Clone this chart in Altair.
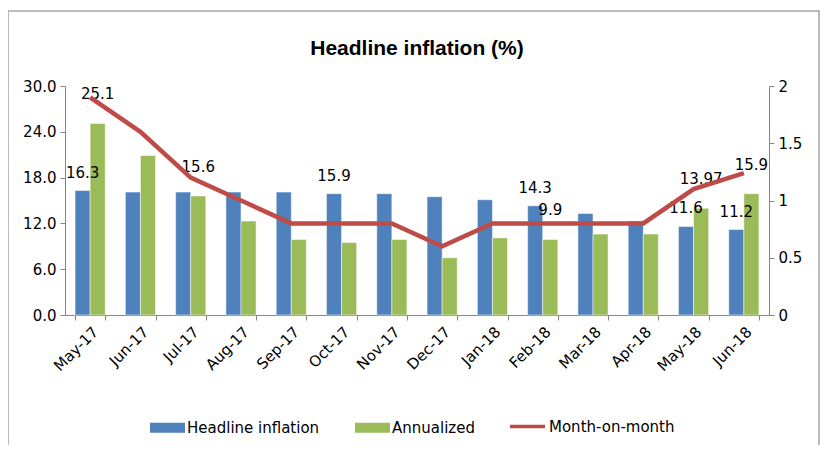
import altair as alt
import pandas as pd

months = ["May-17", "Jun-17", "Jul-17", "Aug-17", "Sep-17", "Oct-17", "Nov-17",
          "Dec-17", "Jan-18", "Feb-18", "Mar-18", "Apr-18", "May-18", "Jun-18"]
headline = [16.3, 16.1, 16.1, 16.1, 16.1, 15.9, 15.9, 15.5, 15.1, 14.3, 13.3, 12.3, 11.6, 11.2]
annualized = [25.1, 20.9, 15.6, 12.3, 9.9, 9.5, 9.9, 7.5, 10.1, 9.9, 10.6, 10.6, 13.97, 15.9]
month_on_month = [1.9, 1.6, 1.2, 1.0, 0.8, 0.8, 0.8, 0.6, 0.8, 0.8, 0.8, 0.8, 1.1, 1.24]
series_names = ["Headline inflation", "Annualized", "Month-on-month"]

label_months = ["May-17", "May-17", "Jul-17", "Oct-17", "Feb-18", "Feb-18",
                "May-18", "May-18", "Jun-18", "Jun-18"]
label_series = ["Headline inflation", "Annualized", "Annualized", "Headline inflation",
                "Headline inflation", "Annualized", "Headline inflation", "Annualized",
                "Headline inflation", "Annualized"]
label_texts = ["16.3", "25.1", "15.6", "15.9", "14.3", "9.9", "11.6", "13.97", "11.2", "15.9"]

BLUE, GREEN, RED = "#4F81BD", "#9BBB59", "#BE4B48"
FONT = "DejaVu Sans"
TITLE_FONT = "Liberation Sans"
AXIS_GRAY = "#868686"

bar_df = pd.DataFrame({
    "month": months * 2,
    "series": [series_names[0]] * len(months) + [series_names[1]] * len(months),
    "value": headline + annualized,
})
line_df = pd.DataFrame({"month": months, "series": series_names[2], "value": month_on_month})
lab_df = pd.DataFrame({"month": label_months, "series": label_series, "text": label_texts})
lab_df = lab_df.merge(bar_df, on=["month", "series"], how="left")

x_enc = alt.X(
    "month:N", sort=months,
    scale=alt.Scale(domain=months, paddingInner=0.4, paddingOuter=0.2),
    axis=alt.Axis(title=None, labelAngle=-45, tickBand="extent", labelFontSize=15,
                  labelColor="#000000", domainColor=AXIS_GRAY, tickColor=AXIS_GRAY,
                  tickSize=5, labelPadding=4, grid=False),
)
xoff = alt.XOffset("series:N", sort=series_names[:2],
                   scale=alt.Scale(domain=series_names[:2], paddingInner=0, paddingOuter=0))

bar_legend = alt.Legend(
    title=None, orient="none", direction="horizontal", legendX=85, legendY=324,
    symbolSize=1225, symbolType="M-1,-0.286H1V0.286H-1Z", symbolStrokeWidth=0,
    symbolOpacity=1, labelFontSize=15, labelColor="#000000", labelFont=FONT,
    columnPadding=35, labelOffset=2,
)
line_legend = alt.Legend(
    title=None, orient="none", direction="horizontal", legendX=443, legendY=321,
    symbolSize=1225, symbolType="M-1,0H1", symbolStrokeWidth=3.5,
    labelFontSize=15, labelColor="#000000", labelFont=FONT, labelOffset=2,
)

y_left = alt.Y("value:Q", scale=alt.Scale(domain=[0, 30], nice=False),
               axis=alt.Axis(title=None, values=[0, 6, 12, 18, 24, 30], format=".1f",
                             labelFontSize=15, labelColor="#000000", domainColor=AXIS_GRAY,
                             tickColor=AXIS_GRAY, tickSize=5, grid=False, labelPadding=4))

bars = alt.Chart(bar_df).mark_bar(stroke="white", strokeWidth=0.5).encode(
    x=x_enc, xOffset=xoff, y=y_left,
    color=alt.Color("series:N", scale=alt.Scale(domain=series_names[:2], range=[BLUE, GREEN]),
                    legend=bar_legend),
)
texts_blue = alt.Chart(lab_df).transform_filter(
    alt.datum.series == series_names[0]
).mark_text(baseline="bottom", dy=-10, fontSize=15, color="#000000").encode(
    x=x_enc, xOffset=xoff, y=alt.Y("value:Q"), text="text:N",
)
texts_green = alt.Chart(lab_df).transform_filter(
    alt.datum.series == series_names[1]
).mark_text(baseline="bottom", dy=-21, fontSize=15, color="#000000").encode(
    x=x_enc, xOffset=xoff, y=alt.Y("value:Q"), text="text:N",
)
line = alt.Chart(line_df).mark_line(strokeWidth=4.5).encode(
    x=x_enc,
    y=alt.Y("value:Q", scale=alt.Scale(domain=[0, 2], nice=False),
            axis=alt.Axis(title=None, values=[0, 0.5, 1, 1.5, 2], format="~g", orient="right",
                          labelFontSize=15, labelColor="#000000", domainColor=AXIS_GRAY,
                          tickColor=AXIS_GRAY, tickSize=5, grid=False, labelPadding=4)),
    stroke=alt.Stroke("series:N", scale=alt.Scale(domain=[series_names[2]], range=[RED]),
                      legend=line_legend),
)

frame = alt.Chart(pd.DataFrame({"f": [0]})).mark_rect(
    fill=None, stroke="#A6A6A6", strokeWidth=1.5
).encode(x=alt.value(-57), x2=alt.value(754), y=alt.value(-75), y2=alt.value(380))

chart = alt.layer(frame, alt.layer(bars, texts_blue, texts_green), line).resolve_scale(
    y="independent"
).properties(
    width=704, height=229,
    title=alt.TitleParams("Headline inflation (%)", fontSize=21, fontWeight="bold",
                          font=TITLE_FONT, color="#000000", anchor="middle", offset=-49),
    autosize=alt.AutoSizeParams(type="none"),
    padding={"left": 57, "top": 78, "right": 52, "bottom": 130},
).configure(font=FONT).configure_view(stroke=None).configure_axis(labelFont=FONT)

chart.save("out.html", embed_options={"renderer": "svg", "actions": False})
